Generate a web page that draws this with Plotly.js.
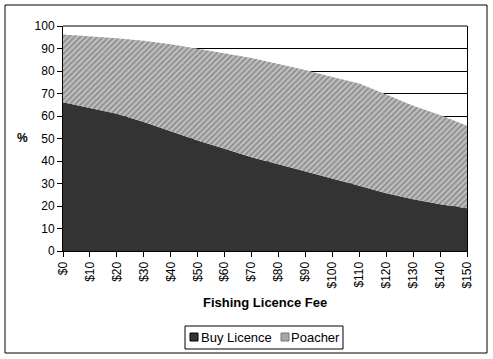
<!DOCTYPE html>
<html>
<head>
<meta charset="utf-8">
<script src="https://cdn.plot.ly/plotly-3.0.1.min.js"></script>
<style>html,body{margin:0;padding:0;background:#fff;}#chart{width:493px;height:359px;}</style>
</head>
<body>
<div id="chart"></div>
<script>
const fees = ["$0","$10","$20","$30","$40","$50","$60","$70","$80","$90","$100","$110","$120","$130","$140","$150"];
const buyLicence = [66.1, 63.5, 61.0, 57.3, 53.1, 49.1, 45.4, 41.7, 38.6, 35.5, 32.4, 29.0, 25.7, 23.0, 20.8, 19.0];
const poacher = [30.1, 32.0, 33.6, 36.1, 38.8, 40.8, 42.6, 44.1, 44.5, 45.0, 44.9, 45.4, 43.9, 41.6, 39.6, 36.7];
const seriesNames = ["Buy Licence", "Poacher"];
const seriesColors = ["#333333", "#a6a6a6"];

const FONT = "Liberation Sans, Arial, sans-serif";

// plot area in pixels: x 63..467, y 26..251
const px = v => (v - 63) / 404;
const py = v => (251 - v) / 225;

const traces = [
  {
    x: fees, y: buyLicence, name: seriesNames[0], type: "scatter", mode: "lines",
    stackgroup: "one", line: {width: 0, color: seriesColors[0]}, fillcolor: seriesColors[0]
  },
  {
    x: fees, y: poacher, name: seriesNames[1], type: "scatter", mode: "lines",
    stackgroup: "one", line: {width: 0, color: seriesColors[1]}, fillcolor: "#c0c0c0",
    fillpattern: {shape: "/", bgcolor: "#c0c0c0", fgcolor: "#8c8c8c", size: 4, solidity: 0.45}
  }
];

const layout = {
  width: 493, height: 359,
  margin: {l: 63, r: 26, t: 26, b: 108, autoexpand: false},
  paper_bgcolor: "#ffffff", plot_bgcolor: "#ffffff",
  font: {family: FONT, size: 12, color: "#000"},
  showlegend: false,
  xaxis: {
    type: "category", range: [0, 15], tickangle: -90, automargin: false,
    showgrid: false, showline: true, linecolor: "#000", linewidth: 1,
    ticks: "outside", ticklen: 5, tickcolor: "#000",
    tickfont: {family: FONT, size: 12, color: "#000"}, fixedrange: true
  },
  yaxis: {
    range: [0, 100], dtick: 10, tick0: 0, automargin: false,
    showgrid: true, gridcolor: "#000", gridwidth: 1,
    showline: true, mirror: true, linecolor: "#000", linewidth: 1,
    ticks: "outside", ticklen: 5, tickcolor: "#000", zeroline: false,
    tickfont: {family: FONT, size: 12, color: "#000"}, fixedrange: true
  },
  annotations: [
    {text: "<b>%</b>", xref: "paper", yref: "paper", x: px(22), y: py(138),
     xanchor: "center", yanchor: "middle", showarrow: false, font: {family: FONT, size: 12, color: "#000"}},
    {text: "<b>Fishing Licence Fee</b>", xref: "paper", yref: "paper", x: 0.5, y: py(302),
     xanchor: "center", yanchor: "middle", showarrow: false, font: {family: FONT, size: 13, color: "#000"}},
    {text: seriesNames[0], xref: "paper", yref: "paper", x: px(199), y: py(337.5),
     xanchor: "left", yanchor: "middle", showarrow: false, font: {family: FONT, size: 13, color: "#000"}},
    {text: seriesNames[1], xref: "paper", yref: "paper", x: px(289), y: py(337.5),
     xanchor: "left", yanchor: "middle", showarrow: false, font: {family: FONT, size: 13, color: "#000"}}
  ],
  shapes: [
    {type: "rect", xref: "paper", yref: "paper", x0: px(5), x1: px(487), y0: py(353), y1: py(5),
     line: {color: "#000", width: 1}, fillcolor: "rgba(0,0,0,0)", layer: "above"},
    {type: "line", xref: "paper", yref: "paper", x0: 0, x1: 1, y0: 1, y1: 1,
     line: {color: "#000", width: 1}, layer: "above"},
    // legend box
    {type: "rect", xref: "paper", yref: "paper", x0: px(185), x1: px(343), y0: py(349), y1: py(326),
     line: {color: "#000", width: 1}, fillcolor: "#fff", layer: "above"},
    {type: "rect", xref: "paper", yref: "paper", x0: px(190), x1: px(198), y0: py(341), y1: py(333),
     line: {color: "#000", width: 1}, fillcolor: seriesColors[0], layer: "above"},
    {type: "rect", xref: "paper", yref: "paper", x0: px(281), x1: px(289), y0: py(341), y1: py(333),
     line: {color: "#777", width: 1}, fillcolor: seriesColors[1], layer: "above"}
  ]
};

Plotly.newPlot("chart", traces, layout, {staticPlot: true, displayModeBar: false});
</script>
</body>
</html>
